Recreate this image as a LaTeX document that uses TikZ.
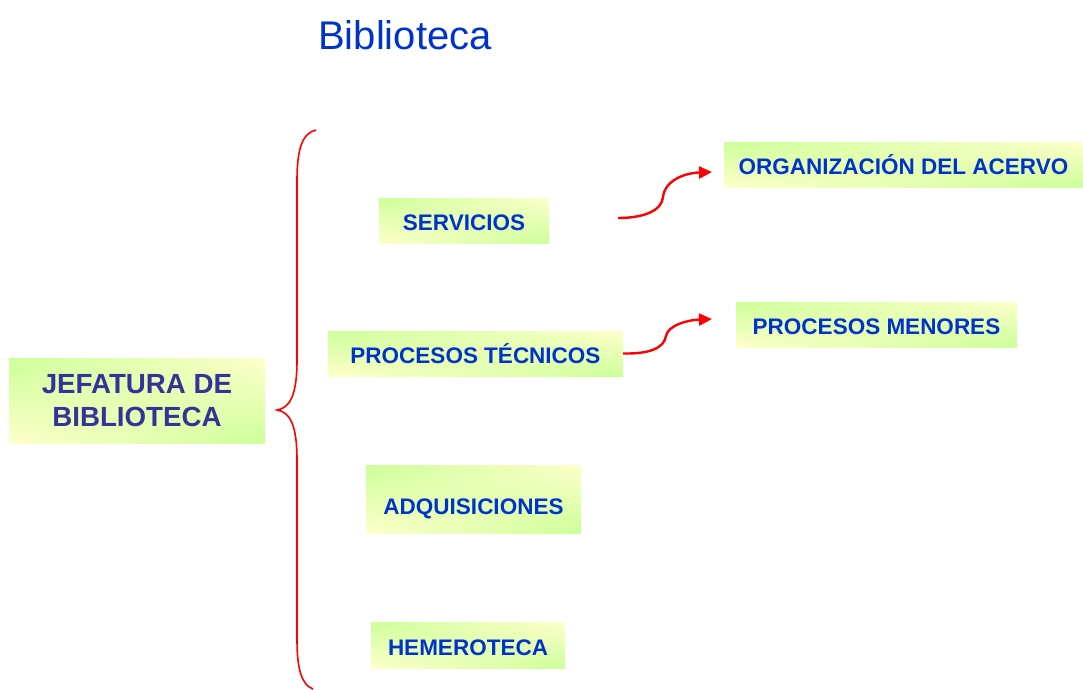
\documentclass[tikz,border=0pt]{standalone}
\usepackage{fontspec}
\setmainfont{Liberation Sans}
\usetikzlibrary{arrows.meta,shadings}
\definecolor{boxgreen}{RGB}{204,255,153}
\definecolor{boxyellow}{RGB}{255,255,204}
\definecolor{txtblue}{RGB}{0,51,204}
\definecolor{txtnavy}{RGB}{51,51,153}
\definecolor{bracered}{RGB}{255,0,0}
\tikzset{
  gbox/.style={inner sep=0pt, align=center,
    upper left=boxgreen, upper right=boxyellow,
    lower left=boxyellow, lower right=boxgreen,
    text height=20pt, text depth=0pt,
    font=\fontsize{22.5}{26}\selectfont\bfseries, text=txtblue},
  redarrow/.style={draw=bracered, line width=2.4pt,
    -{Triangle[length=13pt,width=12pt]}},
  bracestyle/.style={draw=bracered, line width=1.6pt}
}
\begin{document}
\begin{tikzpicture}[x=1pt,y=-1pt]
\path[use as bounding box, fill=white] (0,0) rectangle (1083,689);
\node[font=\fontsize{40}{44}\selectfont, text=txtblue] (title) at (405,35) {Biblioteca};
\node[gbox, minimum width=256pt, minimum height=85pt, text=txtnavy, text height=, text depth=,
  font=\fontsize{27.7}{33}\selectfont\bfseries] (jef) at (137,400.5) {JEFATURA DE\\BIBLIOTECA};
\node[gbox, minimum width=170pt, minimum height=45pt] (serv) at (464,220.5) {SERVICIOS};
\node[gbox, minimum width=295pt, minimum height=45pt] (proc) at (475.5,353.5) {PROCESOS TÉCNICOS};
\node[gbox, minimum width=215pt, minimum height=68pt, text height=30pt] (adq) at (473.5,499) {ADQUISICIONES};
\node[gbox, minimum width=194pt, minimum height=46pt] (hem) at (468,645) {HEMEROTECA};
\node[gbox, minimum width=359pt, minimum height=45pt] (org) at (903.5,164.5) {ORGANIZACIÓN DEL ACERVO};
\node[gbox, minimum width=281pt, minimum height=45pt] (men) at (876.5,324.5) {PROCESOS MENORES};
% brace
\coordinate (btop) at (316,130);
\coordinate (btip) at (277,410);
\coordinate (bbot) at (313,689);
\draw[bracestyle] (btop) .. controls (302,133) and (297,150) .. (297,180)
  -- (297,360) .. controls (297,395) and (290,408) .. (btip)
  .. controls (290,412) and (297,425) .. (297,460)
  -- (297,640) .. controls (297,670) and (302,685) .. (bbot);
% arrows
\coordinate (a1s) at (618,218);
\coordinate (a1e) at (712,172);
\coordinate (a2e) at (712,319);
\draw[redarrow] (a1s) .. controls (645,218) and (662,210) .. (663,197)
  .. controls (665,180) and (685,173) .. (a1e);
\draw[redarrow] (proc.east) .. controls (650,354) and (664,348) .. (666,336)
  .. controls (668,325) and (688,320) .. (a2e);
\end{tikzpicture}
\end{document}
